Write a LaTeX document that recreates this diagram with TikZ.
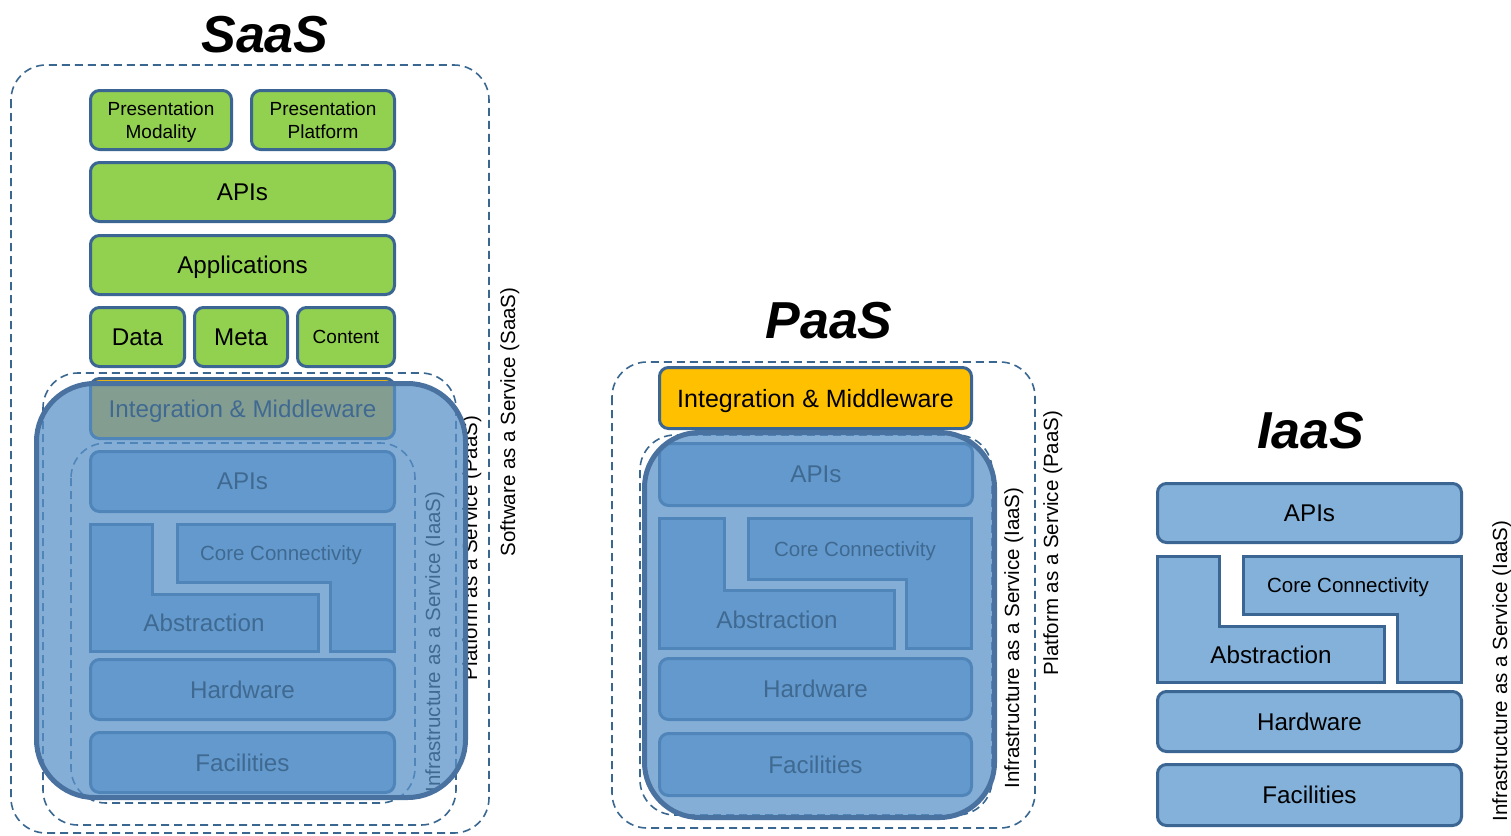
\documentclass[tikz,border=0pt]{standalone}
\usepackage{fontspec}
\setmainfont{Liberation Sans}
\usetikzlibrary{calc}

\definecolor{layergreen}{HTML}{92D050}
\definecolor{layerorange}{HTML}{FFC000}
\definecolor{layerblue}{HTML}{84B1D9}
\definecolor{layerline}{HTML}{3B6593}
\definecolor{frameline}{HTML}{3A6790}
\definecolor{coverfill}{HTML}{5791C8}
\definecolor{coverline}{HTML}{4A72A0}

\tikzset{
  layerbase/.style={rounded corners=9pt, draw=layerline, line width=3pt,
    inner sep=0pt, align=center, text=black, text depth=0pt},
  greenlayer/.style={layerbase, fill=layergreen},
  orangelayer/.style={layerbase, fill=layerorange},
  bluelayer/.style={layerbase, fill=layerblue},
  lshape/.style={draw=layerline, line width=3pt, fill=layerblue, line join=miter},
  frame/.style={draw=frameline, line width=1.6pt, dash pattern=on 8pt off 5pt,
    rounded corners=35pt},
  cover/.style={draw=coverline, line width=5pt, fill=coverfill,
    fill opacity=0.73, draw opacity=1, rounded corners=58pt},
  sidelabel/.style={rotate=90, anchor=base, inner sep=0pt,
    font=\fontsize{20.5}{24}\selectfont},
  title/.style={anchor=base, inner sep=0pt,
    font=\fontsize{52}{60}\selectfont\bfseries\itshape},
  big/.style={font=\fontsize{24.2}{28}\selectfont, text depth=0pt},
  wide/.style={font=\fontsize{25}{28}\selectfont, text depth=0pt},
  small/.style={font=\fontsize{19}{23}\selectfont},
  mid/.style={font=\fontsize{20.5}{24}\selectfont, text depth=0pt},
}

% \layerbox{name}{x1}{y1}{x2}{y2}{style}{text}: a layer whose outer edge spans the given box
\newcommand\layerbox[7]{%
  \node[#6, minimum width={#4-#2-3}, minimum height={#5-#3-3}]
    (#1) at ({(#2+#4)/2},{(#3+#5)/2}) {#7};}

% \serviceframe{name}{x1}{y1}{x2}{y2}: a dashed service frame
\newcommand\serviceframe[5]{%
  \draw[frame] (#2,#3) rectangle (#4,#5);
  \coordinate (#1) at ({(#2+#4)/2},{(#3+#5)/2});}

\begin{document}
\begin{tikzpicture}[x=1pt, y=-1pt]
\useasboundingbox[fill=white] (0,0) rectangle (1511,835);

% ---------------- SaaS ----------------
\node[title] (saasTitle) at (265,52) {SaaS};

\serviceframe{saasFrame}{11}{65}{489}{833}
\serviceframe{saasPaasFrame}{43}{373}{456}{825}
\serviceframe{saasIaasFrame}{71}{443}{415}{803}

\layerbox{sPM}{89}{89}{233}{151}{greenlayer, small}{Presentation\\Modality}
\layerbox{sPP}{250}{89}{396}{151}{greenlayer, small}{Presentation\\Platform}
\layerbox{sAPIg}{89}{161}{396}{223}{greenlayer, big}{APIs}
\layerbox{sApps}{89}{234}{396}{296}{greenlayer, big}{Applications}
\layerbox{sData}{89}{306}{186}{368}{greenlayer, big}{Data}
\layerbox{sMeta}{193}{306}{289}{368}{greenlayer, big}{Meta}
\layerbox{sCont}{296}{306}{396}{368}{greenlayer, small}{Content}
\layerbox{sIM}{89}{377}{396}{440}{orangelayer, big}{Integration \& Middleware}

\layerbox{sAPI}{89}{450}{396}{513}{bluelayer, big}{APIs}
\draw[lshape] (90.5,524.5) -- (152.5,524.5) -- (152.5,594.5) -- (318.5,594.5)
  -- (318.5,651.5) -- (90.5,651.5) -- cycle;
\draw[lshape] (177.5,524.5) -- (394.5,524.5) -- (394.5,651.5) -- (330.5,651.5)
  -- (330.5,582.5) -- (177.5,582.5) -- cycle;
\node[mid] (sCore) at (281,553) {Core Connectivity};
\node[big] (sAbs) at (204,623) {Abstraction};
\layerbox{sHW}{89}{658}{396}{721}{bluelayer, big}{Hardware}
\layerbox{sFac}{89}{731}{396}{794}{bluelayer, big}{Facilities}

\node[sidelabel] (sIaasLbl) at (440,642) {Infrastructure as a Service (IaaS)};
\node[sidelabel] (sPaasLbl) at (477,548) {Platform as a Service (PaaS)};
\node[sidelabel] (sSaasLbl) at (515,422) {Software as a Service (SaaS)};

\draw[cover] (36.5,383.5) rectangle (465.5,797.5);

% ---------------- PaaS ----------------
\node[title] (paasTitle) at (829,338) {PaaS};

\serviceframe{paasFrame}{612}{362}{1035}{828}
\serviceframe{paasIaasFrame}{640}{435}{992}{815}

\layerbox{pIM}{658}{366}{973}{430}{orangelayer, wide}{Integration \& Middleware}
\layerbox{pAPI}{658}{442}{974}{507}{bluelayer, big}{APIs}
\draw[lshape] (659.5,518.5) -- (724.5,518.5) -- (724.5,590.5) -- (894.5,590.5)
  -- (894.5,648.5) -- (659.5,648.5) -- cycle;
\draw[lshape] (748.5,518.5) -- (971.5,518.5) -- (971.5,648.5) -- (906.5,648.5)
  -- (906.5,579.5) -- (748.5,579.5) -- cycle;
\node[mid] (pCore) at (855,549) {Core Connectivity};
\node[big] (pAbs) at (777,620) {Abstraction};
\layerbox{pHW}{658}{657}{973}{721}{bluelayer, big}{Hardware}
\layerbox{pFac}{658}{732}{973}{797}{bluelayer, big}{Facilities}

\node[sidelabel] (pIaasLbl) at (1019,638) {Infrastructure as a Service (IaaS)};
\node[sidelabel] (pPaasLbl) at (1058,543) {Platform as a Service (PaaS)};

\draw[cover, rounded corners=55pt] (644.5,432.5) rectangle (994.5,817.5);

% ---------------- IaaS ----------------
\node[title] (iaasTitle) at (1311,448) {IaaS};

\layerbox{iAPI}{1156}{482}{1463}{544}{bluelayer, big}{APIs}
\draw[lshape] (1157.5,556.5) -- (1219.5,556.5) -- (1219.5,626.5) -- (1384.5,626.5)
  -- (1384.5,682.5) -- (1157.5,682.5) -- cycle;
\draw[lshape] (1243.5,556.5) -- (1461.5,556.5) -- (1461.5,682.5) -- (1397.5,682.5)
  -- (1397.5,614.5) -- (1243.5,614.5) -- cycle;
\node[mid] (iCore) at (1348,585) {Core Connectivity};
\node[big] (iAbs) at (1271,655) {Abstraction};
\layerbox{iHW}{1156}{690}{1463}{753}{bluelayer, big}{Hardware}
\layerbox{iFac}{1156}{763}{1463}{827}{bluelayer, big}{Facilities}

\node[sidelabel] (iIaasLbl) at (1507,671) {Infrastructure as a Service (IaaS)};

\end{tikzpicture}
\end{document}
